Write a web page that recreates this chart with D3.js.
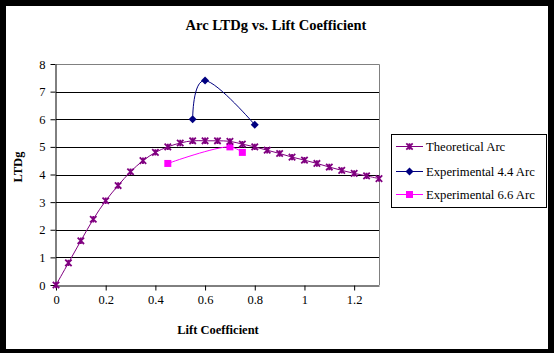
<!DOCTYPE html>
<html>
<head>
<meta charset="utf-8">
<script src="https://cdn.jsdelivr.net/npm/d3@7"></script>
<style>
  body { margin: 0; background: #000; }
  svg { display: block; }
  text { font-family: "Liberation Serif", "Times New Roman", serif; }
</style>
</head>
<body>
<svg id="chart" width="554" height="353"></svg>
<script>
// data
let theoX = [0, 0.05, 0.1, 0.15, 0.2, 0.25, 0.3, 0.35, 0.4, 0.45, 0.5, 0.55, 0.6, 0.65,
             0.7, 0.75, 0.8, 0.85, 0.9, 0.95, 1.0, 1.05, 1.1, 1.15, 1.2, 1.25, 1.3];
let theoY = [0, 0.8, 1.6, 2.38, 3.05, 3.6, 4.1, 4.5, 4.8, 5.0, 5.14, 5.22, 5.22, 5.22,
             5.2, 5.1, 5.0, 4.88, 4.76, 4.63, 4.52, 4.4, 4.27, 4.15, 4.04, 3.95, 3.85];
let exp44X = [0.55, 0.6, 0.8];
let exp44Y = [6.0, 7.4, 5.8];
let exp66X = [0.45, 0.7, 0.75];
let exp66Y = [4.4, 5.0, 4.8];
let xTicks = [0, 0.2, 0.4, 0.6, 0.8, 1, 1.2];
let yTicks = [0, 1, 2, 3, 4, 5, 6, 7, 8];
let seriesNames = ["Theoretical Arc", "Experimental 4.4 Arc", "Experimental 6.6 Arc"];

let svg = d3.select("#chart");

// white chart area inside the black frame
svg.append("rect")
  .attr("x", 6).attr("y", 6)
  .attr("width", 542).attr("height", 343)
  .attr("fill", "#fff");

let plotLeft = 56, plotRight = 379, plotTop = 64, plotBottom = 285;

let xScale = d3.scaleLinear().domain([0, 1.3]).range([plotLeft, plotRight]);
let yScale = d3.scaleLinear().domain([0, 8]).range([plotBottom, plotTop]);

// plot border (grey top/right)
svg.append("path")
  .attr("d", `M${plotLeft},${plotTop + 0.5}H${plotRight + 0.5}V${plotBottom}`)
  .attr("fill", "none")
  .attr("stroke", "#808080")
  .attr("stroke-width", 1);

// gridlines
svg.append("g")
  .selectAll("line")
  .data(yTicks.filter(d => d > 0 && d < 8))
  .enter()
  .append("line")
  .attr("x1", plotLeft).attr("x2", plotRight)
  .attr("y1", d => Math.round(yScale(d)) + 0.5)
  .attr("y2", d => Math.round(yScale(d)) + 0.5)
  .attr("stroke", "#000");

// axes
let xAxis = d3.axisBottom(xScale).tickValues(xTicks).tickSizeInner(5).tickSizeOuter(0)
  .tickFormat(d => d3.format("")(d));
let yAxis = d3.axisLeft(yScale).tickValues(yTicks).tickSizeInner(5).tickSizeOuter(0);

let gx = svg.append("g").attr("transform", `translate(0,${plotBottom + 0.5})`).call(xAxis);
let gy = svg.append("g").attr("transform", `translate(${plotLeft - 0.5},0)`).call(yAxis);
[gx, gy].forEach(g => {
  g.attr("font-family", "'Liberation Serif', serif").attr("font-size", 12.5);
  g.select(".domain").attr("stroke", "#000");
  g.selectAll(".tick line").attr("stroke", "#000");
  g.selectAll(".tick text").attr("fill", "#000");
});
gx.selectAll(".tick text").attr("dy", "0.71em").attr("y", 10);
gy.selectAll(".tick text").attr("x", -10);

// series lines (smoothed like the original)
let line = d3.line()
  .x(d => xScale(d[0]))
  .y(d => yScale(d[1]))
  .curve(d3.curveCatmullRom.alpha(0.5));
// the sparse 4.4 series bends a bit harder in the original
let lineLoose = d3.line()
  .x(d => xScale(d[0]))
  .y(d => yScale(d[1]))
  .curve(d3.curveCardinal.tension(-0.2));

let theo = theoX.map((x, i) => [x, theoY[i]]);
let e44 = exp44X.map((x, i) => [x, exp44Y[i]]);
let e66 = exp66X.map((x, i) => [x, exp66Y[i]]);

svg.append("path").attr("d", line(e66)).attr("fill", "none").attr("stroke", "#ff00ff").attr("stroke-width", 1);
svg.append("path").attr("d", lineLoose(e44)).attr("fill", "none").attr("stroke", "#000080").attr("stroke-width", 1);
svg.append("path").attr("d", line(theo)).attr("fill", "none").attr("stroke", "#800080").attr("stroke-width", 1);

// marker helpers
function star(g, x, y) {
  let s = 3.2;
  g.append("path")
    .attr("d", `M${x - s},${y - s}L${x + s},${y + s}M${x - s},${y + s}L${x + s},${y - s}M${x},${y - s}V${y + s}`)
    .attr("stroke", "#800080").attr("stroke-width", 1.8).attr("fill", "none");
}
function diamond(g, x, y) {
  let s = 4;
  g.append("path")
    .attr("d", `M${x},${y - s}L${x + s},${y}L${x},${y + s}L${x - s},${y}Z`)
    .attr("fill", "#000080");
}
function square(g, x, y) {
  let s = 3.5;
  g.append("rect")
    .attr("x", x - s).attr("y", y - s)
    .attr("width", 2 * s).attr("height", 2 * s)
    .attr("fill", "#ff00ff");
}

let markers = svg.append("g");
e66.forEach(d => square(markers, xScale(d[0]), yScale(d[1])));
e44.forEach(d => diamond(markers, xScale(d[0]), yScale(d[1])));
theo.forEach(d => star(markers, xScale(d[0]), yScale(d[1])));

// title and axis labels
svg.append("text")
  .attr("x", 276).attr("y", 30)
  .attr("text-anchor", "middle")
  .style("font-size", "14.5px").style("font-weight", "bold")
  .text("Arc LTDg vs. Lift Coefficient");

svg.append("text")
  .attr("x", 218).attr("y", 334)
  .attr("text-anchor", "middle")
  .style("font-size", "12.5px").style("font-weight", "bold")
  .text("Lift Coefficient");

svg.append("text")
  .attr("transform", "translate(22,167) rotate(-90)")
  .attr("text-anchor", "middle")
  .style("font-size", "12.5px").style("font-weight", "bold")
  .text("LTDg");

// legend
let legend = svg.append("g");
legend.append("rect")
  .attr("x", 391.5).attr("y", 134.5)
  .attr("width", 155).attr("height", 73)
  .attr("fill", "#fff").attr("stroke", "#000");

let legendColors = ["#800080", "#000080", "#ff00ff"];
let legendMarkers = [star, diamond, square];
let legendY = [146, 171, 194];
seriesNames.forEach((name, i) => {
  let y = legendY[i];
  legend.append("line")
    .attr("x1", 396).attr("x2", 423)
    .attr("y1", y + 0.5).attr("y2", y + 0.5)
    .attr("stroke", legendColors[i]);
  legendMarkers[i](legend, 409.5, y + 0.5);
  legend.append("text")
    .attr("x", 426).attr("y", y + 4.5)
    .style("font-size", "12.7px")
    .text(name);
});
</script>
</body>
</html>
